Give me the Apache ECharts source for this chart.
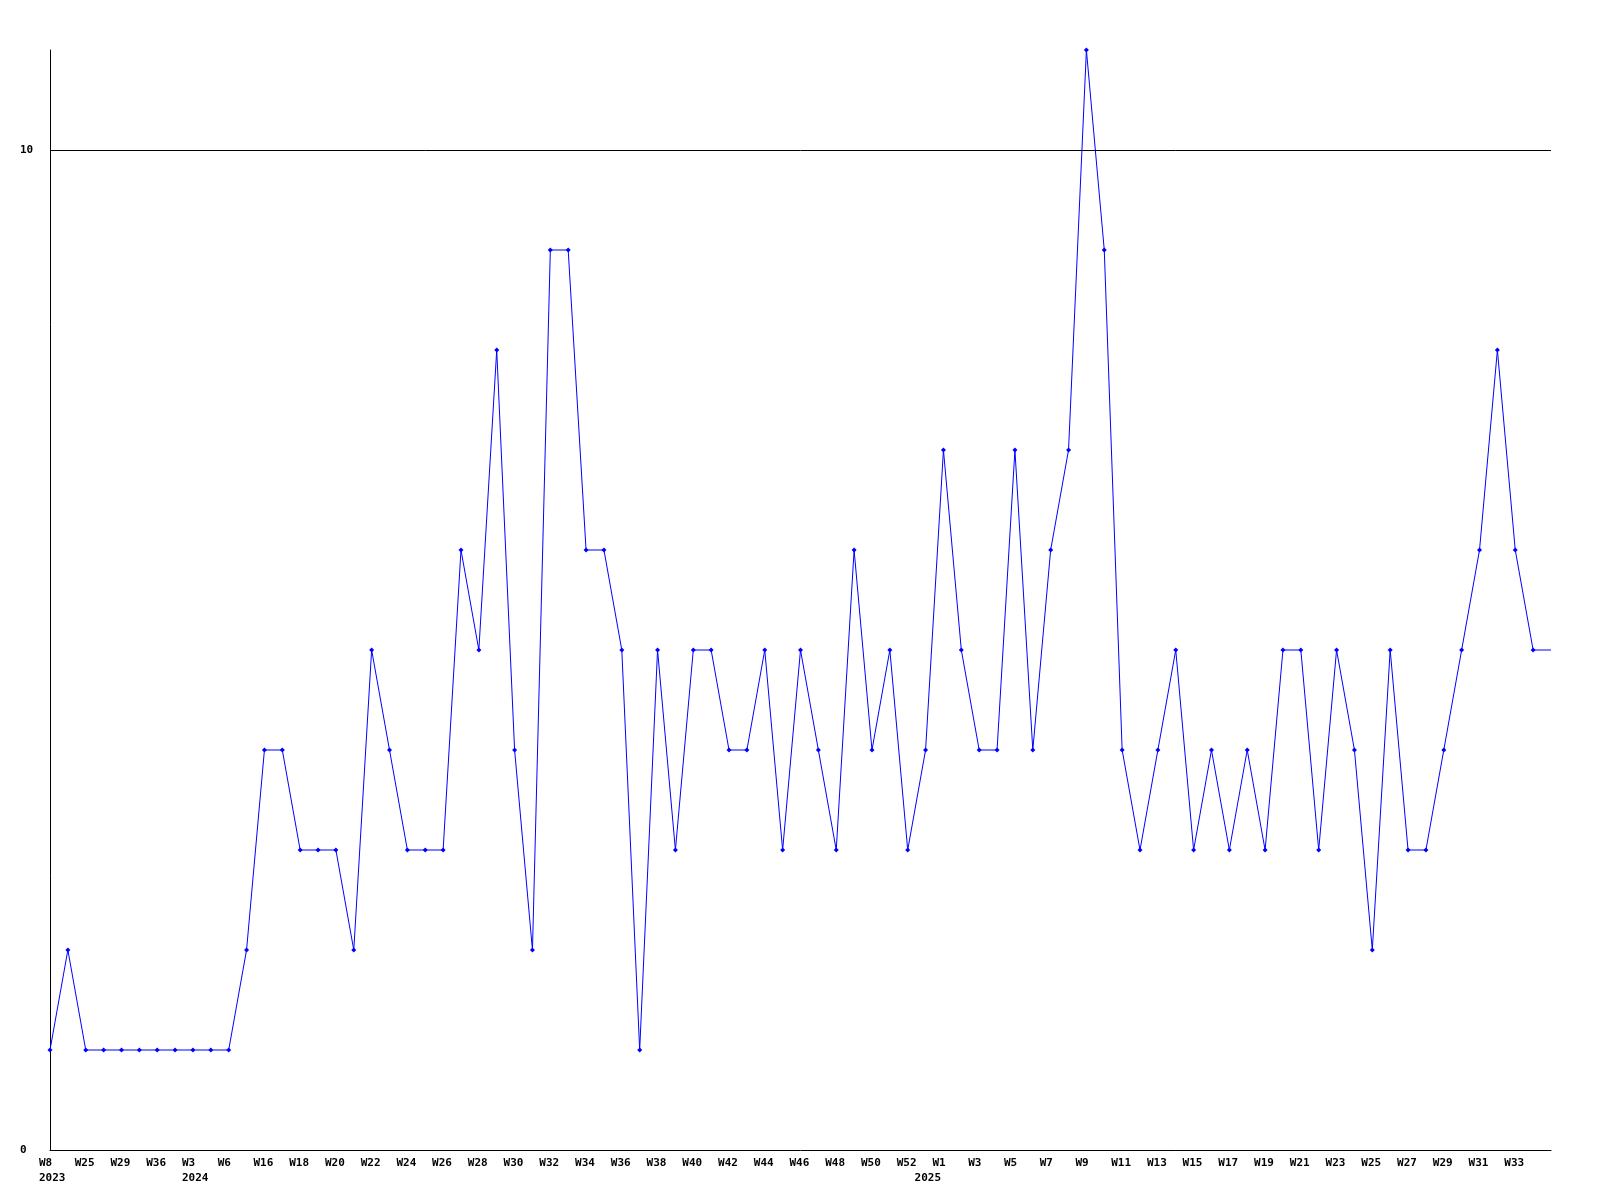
<!DOCTYPE html>
<html>
<head>
<meta charset="utf-8">
<script src="https://cdn.jsdelivr.net/npm/echarts@6/dist/echarts.min.js"></script>
<style>html,body{margin:0;padding:0;background:#fff;}#c{width:1600px;height:1200px;}</style>
</head>
<body>
<div id="c"></div>
<script>
// Week labels (every other one is shown on the axis)
const weeks = [
  'W8','W18','W25','W27','W29','W33','W36','W45','W3','W4','W6','W10',
  'W16','W17','W18','W19','W20','W21','W22','W23','W24','W25','W26','W27',
  'W28','W29','W30','W31','W32','W33','W34','W35','W36','W37','W38','W39',
  'W40','W41','W42','W43','W44','W45','W46','W47','W48','W49','W50','W51',
  'W52','W53','W1','W2','W3','W4','W5','W6','W7','W8','W9','W10',
  'W11','W12','W13','W14','W15','W16','W17','W18','W19','W20','W21','W22',
  'W23','W24','W25','W26','W27','W28','W29','W30','W31','W32','W33','W34',
  ''
];
// Year labels shown under specific categories
const years = {0:'2023', 8:'2024', 49:'2025'};
// Series values
const values = [
  1,2,1,1,1,1,1,1,1,1,1,2,4,4,3,3,3,2,5,4,3,3,3,6,5,8,4,2,9,9,
  6,6,5,1,5,3,5,5,4,4,5,3,5,4,3,6,4,5,3,4,7,5,4,4,7,4,6,7,11,9,
  4,3,4,5,3,4,3,4,3,5,5,3,5,4,2,5,3,3,4,5,6,8,6,5
];
const tailValue = 5; // line continues flat to the right edge
const yMin = 0, yMax = 11, refLine = 10;

const seriesData = values.map(v => v);
seriesData.push({value: tailValue, symbol: 'none'});

const font = {fontFamily: 'DejaVu Sans Mono', fontWeight: 'bold', fontSize: 11, color: '#000'};
const chart = echarts.init(document.getElementById('c'));
chart.setOption({
  animation: false,
  backgroundColor: '#fff',
  grid: [
    {left: 50, right: 49, top: 50, bottom: 50},
    {left: 39, right: 60, top: 50, bottom: 50}
  ],
  xAxis: [
    {
      type: 'category', gridIndex: 0, data: weeks, boundaryGap: false,
      axisLine: {lineStyle: {color: '#000', width: 1}},
      axisTick: {show: false}, axisLabel: {show: false}, splitLine: {show: false}
    },
    {
      type: 'category', gridIndex: 1, data: weeks, boundaryGap: false,
      axisLine: {show: false}, axisTick: {show: false}, splitLine: {show: false},
      axisLabel: Object.assign({
        align: 'left', margin: 6, lineHeight: 15,
        interval: function (i) { return (i % 2 === 0 && i < values.length) || years[i] !== undefined; },
        formatter: function (v, i) {
          if (i % 2 === 1) return '\n' + (years[i] || '');
          return years[i] ? v + '\n' + years[i] : v;
        }
      }, font)
    }
  ],
  yAxis: [
    {
      type: 'value', gridIndex: 0, min: yMin, max: yMax, interval: 10,
      axisLine: {show: true, lineStyle: {color: '#000', width: 1}},
      axisTick: {show: false}, splitLine: {show: false},
      axisLabel: Object.assign({align: 'left', margin: 30, showMaxLabel: false,
        formatter: function (v) { return (v === 0 || v === 10) ? String(v) : ''; }}, font)
    },
    {type: 'value', gridIndex: 1, show: false, min: yMin, max: yMax}
  ],
  series: [
    {
      type: 'line', xAxisIndex: 0, yAxisIndex: 0, data: seriesData,
      symbol: 'diamond', symbolSize: 5, showSymbol: true,
      lineStyle: {color: '#0000ff', width: 1},
      itemStyle: {color: '#0000ff'},
      markLine: {
        silent: true, symbol: 'none', label: {show: false},
        lineStyle: {color: '#000', width: 1, type: 'solid'},
        data: [{yAxis: refLine}]
      }
    },
    {type: 'line', xAxisIndex: 1, yAxisIndex: 1, data: [], silent: true}
  ]
});
</script>
</body>
</html>
